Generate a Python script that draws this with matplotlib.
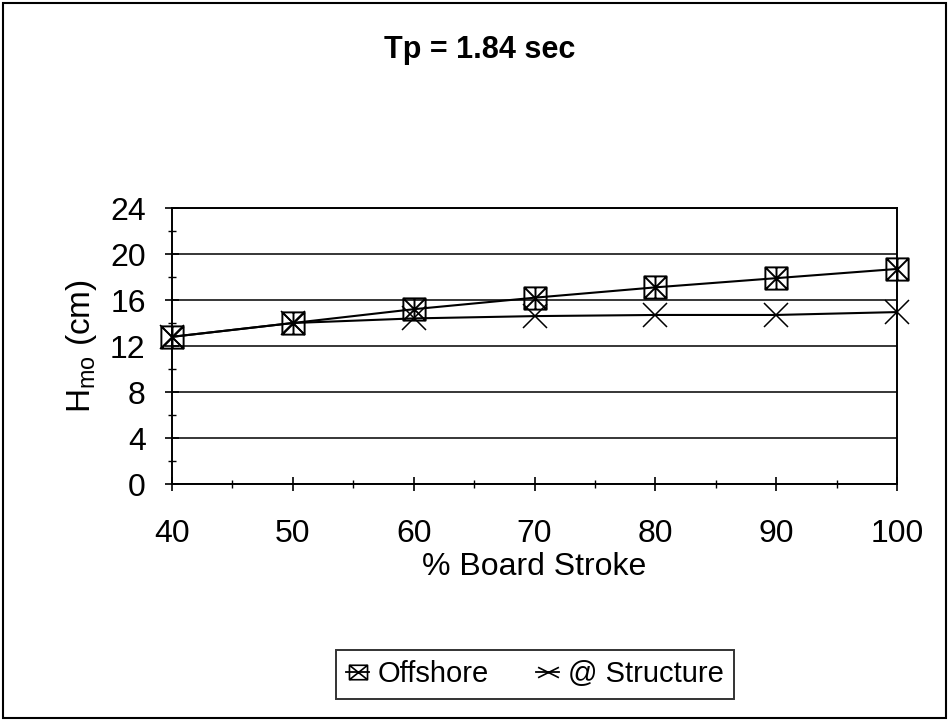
import matplotlib
matplotlib.use("Agg")
import matplotlib.pyplot as plt
from matplotlib.path import Path
from matplotlib.patches import Rectangle
from matplotlib.lines import Line2D
from matplotlib.ticker import MultipleLocator

plt.rcParams['font.family'] = ['Liberation Sans', 'DejaVu Sans']
plt.rcParams['mathtext.fontset'] = 'custom'
plt.rcParams['mathtext.rm'] = 'Liberation Sans'
plt.rcParams['mathtext.it'] = 'Liberation Sans'

stroke = [40, 50, 60, 70, 80, 90, 100]
offshore = [12.8, 14.0, 15.2, 16.2, 17.1, 17.9, 18.7]
structure = [12.8, 14.0, 14.4, 14.6, 14.7, 14.7, 14.95]
yticks = [0, 4, 8, 12, 16, 20, 24]
xticks = [40, 50, 60, 70, 80, 90, 100]
series_names = ['Offshore', '@ Structure']

# square with X and vertical bar marker
verts = [(-1, -1), (1, -1), (1, 1), (-1, 1), (-1, -1),
         (-1, -1), (1, 1),
         (-1, 1), (1, -1),
         (0, -1), (0, 1)]
codes = [Path.MOVETO, Path.LINETO, Path.LINETO, Path.LINETO, Path.CLOSEPOLY,
         Path.MOVETO, Path.LINETO,
         Path.MOVETO, Path.LINETO,
         Path.MOVETO, Path.LINETO]
box_marker = Path(verts, codes)

leg_box = Path([(-1, -0.8), (1, -0.8), (1, 0.8), (-1, 0.8), (-1, -0.8),
                (-1, -0.8), (1, 0.8), (-1, 0.8), (1, -0.8)],
               [Path.MOVETO, Path.LINETO, Path.LINETO, Path.LINETO, Path.CLOSEPOLY,
                Path.MOVETO, Path.LINETO, Path.MOVETO, Path.LINETO])
flat_x = Path([(-1, -0.5), (1, 0.5), (-1, 0.5), (1, -0.5)],
              [Path.MOVETO, Path.LINETO, Path.MOVETO, Path.LINETO])

fig = plt.figure(figsize=(9.49, 7.21), dpi=100)
ax = fig.add_axes([0.1813, 0.3287, 0.7639, 0.3828])

ax.plot(stroke, offshore, color='black', lw=1.5, marker=box_marker,
        markersize=16, markerfacecolor='none', markeredgecolor='black',
        markeredgewidth=1.4, clip_on=False, zorder=4)
ax.plot(stroke, structure, color='black', lw=1.5, marker='x',
        markersize=17, markeredgewidth=1.1, clip_on=False, zorder=3)

ax.set_xlim(40, 100)
ax.set_ylim(0, 24)
ax.set_xticks(xticks)
ax.set_yticks(yticks)
ax.xaxis.set_minor_locator(MultipleLocator(5))
ax.yaxis.set_minor_locator(MultipleLocator(2))
ax.tick_params(which='major', direction='inout', length=10, width=1.2,
               labelsize=23)
ax.tick_params(axis='y', which='major', pad=14)
ax.tick_params(axis='x', which='major', pad=20)
ax.tick_params(which='minor', direction='inout', length=6, width=1.0)
ax.grid(axis='y', which='major', color='black', lw=1.1)
for s in ax.spines.values():
    s.set_linewidth(1.4)

ax.set_xlabel('% Board Stroke', fontsize=23, labelpad=2)
ax.set_ylabel('H$_{\\mathrm{mo}}$ (cm)', fontsize=24, labelpad=8)

fig.text(0.505, 0.931, 'Tp = 1.84 sec', fontsize=22, fontweight='bold',
         ha='center', va='center')

handles = [Line2D([], [], color='black', lw=1.3, marker=leg_box, markersize=13,
                  markerfacecolor='none', markeredgewidth=1.2),
           Line2D([], [], color='black', lw=1.3, marker=flat_x, markersize=15,
                  markeredgewidth=1.2)]
leg = fig.legend(handles, series_names, loc='center',
                 bbox_to_anchor=(0.5637, 0.0645), ncol=2,
                 fontsize=21, frameon=True, fancybox=False, edgecolor='black',
                 handlelength=0.8, handletextpad=0.3, columnspacing=1.6,
                 borderpad=0.35, borderaxespad=0)
leg.get_frame().set_linewidth(1.4)

fig.patches.append(Rectangle((0.003, 0.004), 0.994, 0.992,
                             transform=fig.transFigure, fill=False,
                             edgecolor='black', lw=1.5))

fig.savefig('out.png', dpi=100)
